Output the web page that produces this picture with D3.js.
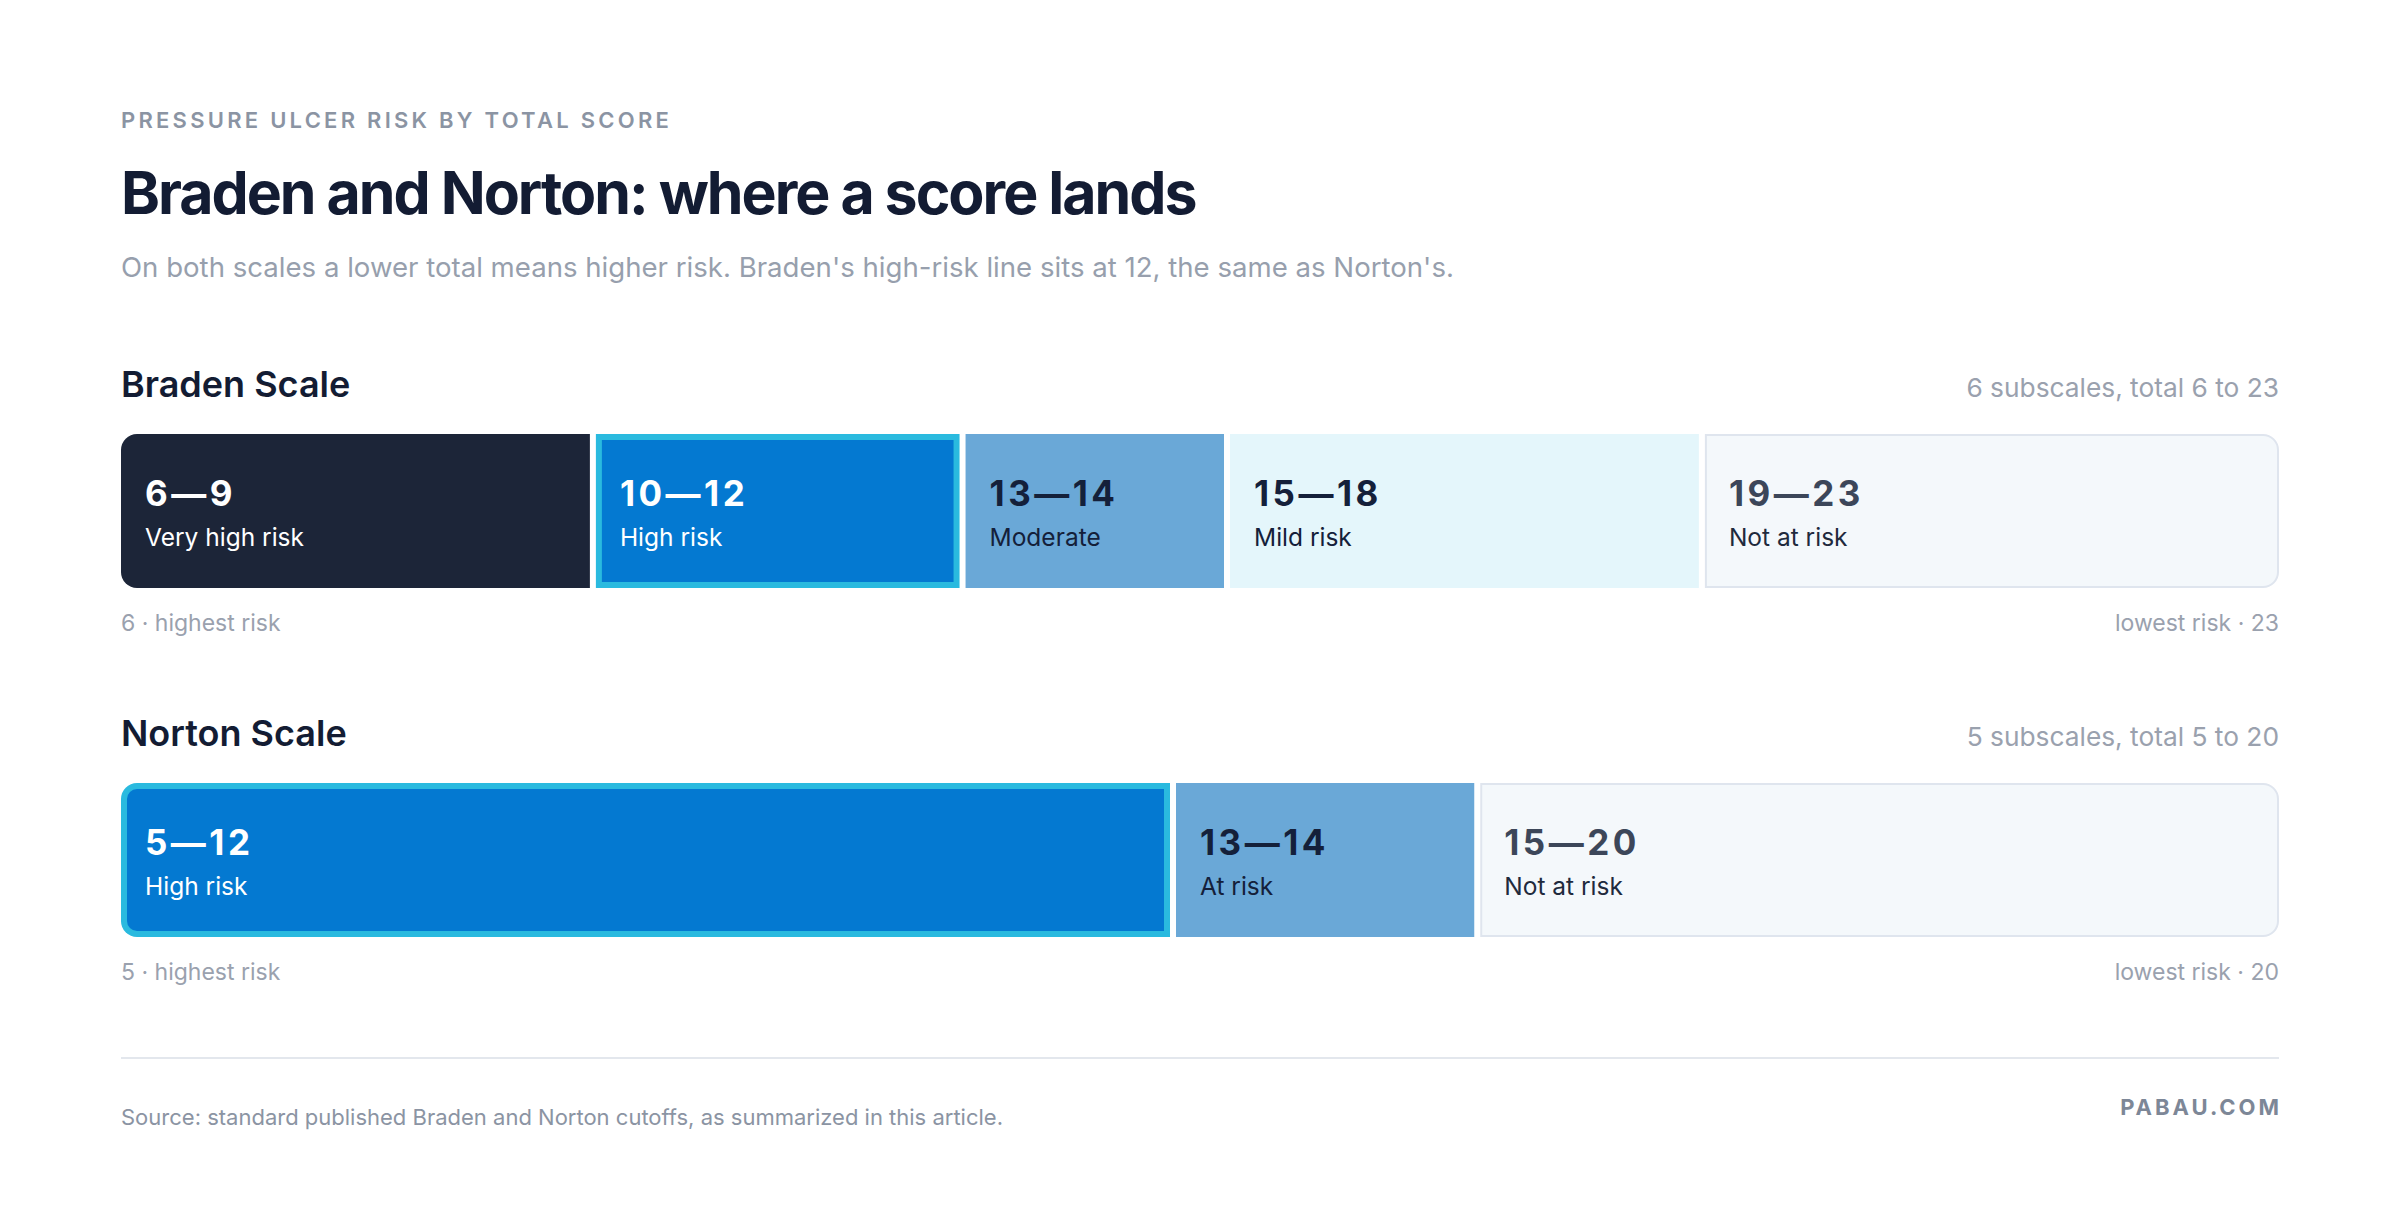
<!DOCTYPE html>
<html>
<head>
<meta charset="utf-8">
<script src="https://cdn.jsdelivr.net/npm/d3@7"></script>
<style>
  html, body { margin: 0; padding: 0; background: #ffffff; }
  svg { display: block; font-family: Inter, "Open Sans", sans-serif; }
</style>
</head>
<body>
<div id="chart"></div>
<script>
// Score bands
const bradenRanges = [[6, 9], [10, 12], [13, 14], [15, 18], [19, 23]];
const bradenLabels = ["Very high risk", "High risk", "Moderate", "Mild risk", "Not at risk"];
const bradenLevels = ["veryHigh", "high", "moderate", "mild", "none"];
const bradenTotal = [6, 23];
const bradenSubscales = 6;

const nortonRanges = [[5, 12], [13, 14], [15, 20]];
const nortonLabels = ["High risk", "At risk", "Not at risk"];
const nortonLevels = ["high", "moderate", "none"];
const nortonTotal = [5, 20];
const nortonSubscales = 5;

// look per risk level
const levelStyle = {
    veryHigh: { fill: "#1c2538", range: "#ffffff", label: "#ffffff" },
    high:     { fill: "#0479d1", range: "#ffffff", label: "#ffffff", ring: "#2abadf" },
    moderate: { fill: "#6aa8d7", range: "#14203a", label: "#14203a" },
    mild:     { fill: "#e4f6fb", range: "#14203a", label: "#14203a" },
    none:     { fill: "#f4f8fb", range: "#3c4659", label: "#1f2a3d", stroke: "#dfe5ee" }
};

const width = 2400, height = 1228;
const left = 121, right = 2279;
const gap = 6, base = 54, barH = 154, radius = 16, ring = 6;

const svg = d3.select("#chart").append("svg")
    .attr("width", width)
    .attr("height", height);

svg.append("rect").attr("width", width).attr("height", height).attr("fill", "#ffffff");

// header
svg.append("text")
    .attr("x", left).attr("y", 128)
    .attr("font-size", 22).attr("font-weight", 600)
    .attr("letter-spacing", 3.25)
    .attr("fill", "#8b94a3")
    .text("PRESSURE ULCER RISK BY TOTAL SCORE");

svg.append("text")
    .attr("x", left).attr("y", 214)
    .attr("font-size", 59).attr("font-weight", 700)
    .attr("letter-spacing", -2)
    .attr("fill", "#131c33")
    .text("Braden and Norton: where a score lands");

svg.append("text")
    .attr("x", left).attr("y", 277)
    .attr("font-size", 27.6).attr("font-weight", 400)
    .attr("fill", "#979fad")
    .text("On both scales a lower total means higher risk. Braden's high-risk line sits at 12, the same as Norton's.");

// path for a rect with optional rounded left / right side
function sidePath(x, y, w, h, rl, rr) {
    return `M${x + rl},${y}H${x + w - rr}` +
        (rr ? `A${rr},${rr} 0 0 1 ${x + w},${y + rr}` : "") +
        `V${y + h - rr}` +
        (rr ? `A${rr},${rr} 0 0 1 ${x + w - rr},${y + h}` : "") +
        `H${x + rl}` +
        (rl ? `A${rl},${rl} 0 0 1 ${x},${y + h - rl}` : "") +
        `V${y + rl}` +
        (rl ? `A${rl},${rl} 0 0 1 ${x + rl},${y}` : "") + "Z";
}

function drawScale(cfg) {
    const n = cfg.ranges.length;
    // each band gets a fixed base width plus a share proportional to its score count
    const x = d3.scaleLinear()
        .domain([cfg.total[0], cfg.total[1] + 1])
        .range([0, (right - left) + gap - n * base]);

    const segs = cfg.ranges.map((r, i) => ({
        lo: r[0], hi: r[1],
        label: cfg.labels[i],
        level: cfg.levels[i],
        x0: left + i * base + x(r[0]),
        x1: left + (i + 1) * base + x(r[1] + 1) - gap,
        first: i === 0,
        last: i === n - 1
    }));

    const g = svg.append("g");

    g.append("text")
        .attr("x", left).attr("y", cfg.top - 37)
        .attr("font-size", 36).attr("font-weight", 600)
        .attr("fill", "#131c33")
        .text(cfg.name);

    g.append("text")
        .attr("x", right).attr("y", cfg.top - 37)
        .attr("text-anchor", "end")
        .attr("font-size", 26.3)
        .attr("fill", "#9aa1ae")
        .text(`${cfg.subscales} subscales, total ${cfg.total[0]} to ${cfg.total[1]}`);

    const seg = g.selectAll(".seg")
        .data(segs)
        .enter().append("g")
        .attr("class", "seg");

    seg.each(function(d) {
        const s = levelStyle[d.level];
        const el = d3.select(this);
        const w = d.x1 - d.x0;
        const rl = d.first ? radius : 0, rr = d.last ? radius : 0;
        if (s.ring) {
            el.append("path")
                .attr("d", sidePath(d.x0, cfg.top, w, barH, rl, rr))
                .attr("fill", s.ring);
            el.append("path")
                .attr("d", sidePath(d.x0 + ring, cfg.top + ring, w - 2 * ring, barH - 2 * ring,
                    rl ? rl - ring : 0, rr ? rr - ring : 0))
                .attr("fill", s.fill);
        } else if (s.stroke) {
            el.append("path")
                .attr("d", sidePath(d.x0 + 1, cfg.top + 1, w - 2, barH - 2, rl ? rl - 1 : 0, rr ? rr - 1 : 0))
                .attr("fill", s.fill)
                .attr("stroke", s.stroke)
                .attr("stroke-width", 2);
        } else {
            el.append("path")
                .attr("d", sidePath(d.x0, cfg.top, w, barH, rl, rr))
                .attr("fill", s.fill);
        }

        el.append("text")
            .attr("x", d.x0 + 24).attr("y", cfg.top + 72)
            .attr("font-size", 35).attr("font-weight", 700)
            .attr("letter-spacing", 3.5)
            .attr("fill", s.range)
            .text(`${d.lo}\u2014${d.hi}`);

        el.append("text")
            .attr("x", d.x0 + 24).attr("y", cfg.top + 112)
            .attr("font-size", 24.5).attr("font-weight", 400)
            .attr("fill", s.label)
            .text(d.label);
    });

    g.append("text")
        .attr("x", left).attr("y", cfg.top + barH + 43)
        .attr("font-size", 23)
        .attr("fill", "#9aa1ae")
        .text(`${cfg.total[0]} \u00b7 highest risk`);

    g.append("text")
        .attr("x", right).attr("y", cfg.top + barH + 43)
        .attr("text-anchor", "end")
        .attr("font-size", 23)
        .attr("fill", "#9aa1ae")
        .text(`lowest risk \u00b7 ${cfg.total[1]}`);
}

drawScale({
    name: "Braden Scale", top: 434,
    ranges: bradenRanges, labels: bradenLabels, levels: bradenLevels,
    total: bradenTotal, subscales: bradenSubscales
});

drawScale({
    name: "Norton Scale", top: 783,
    ranges: nortonRanges, labels: nortonLabels, levels: nortonLevels,
    total: nortonTotal, subscales: nortonSubscales
});

// footer
svg.append("line")
    .attr("x1", left).attr("x2", right)
    .attr("y1", 1058).attr("y2", 1058)
    .attr("stroke", "#e3e7ed").attr("stroke-width", 2);

svg.append("text")
    .attr("x", left).attr("y", 1125)
    .attr("font-size", 22)
    .attr("fill", "#8b94a3")
    .text("Source: standard published Braden and Norton cutoffs, as summarized in this article.");

svg.append("text")
    .attr("x", right + 3).attr("y", 1115)
    .attr("text-anchor", "end")
    .attr("font-size", 22).attr("font-weight", 700)
    .attr("letter-spacing", 3)
    .attr("fill", "#7d8797")
    .text("PABAU.COM");
</script>
</body>
</html>
